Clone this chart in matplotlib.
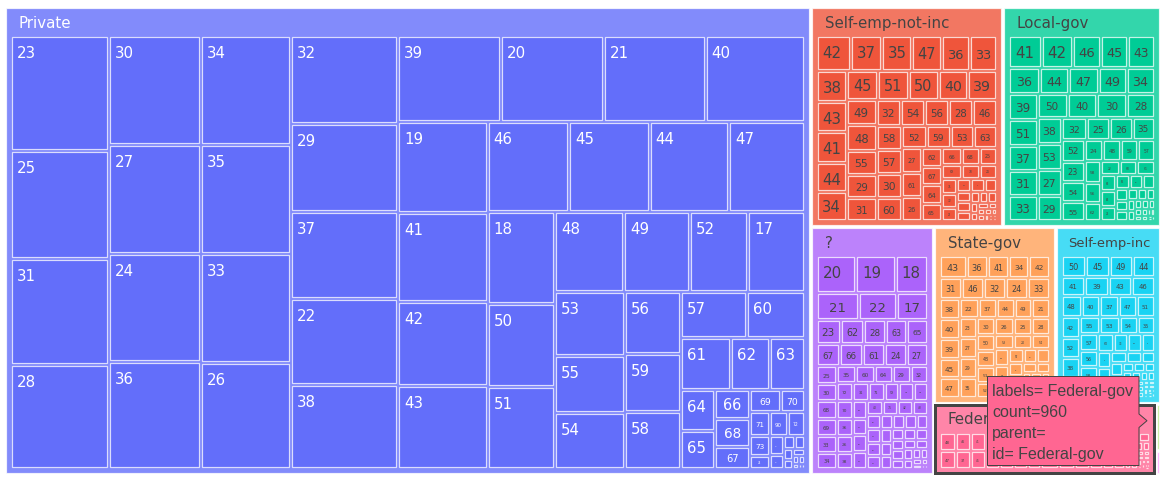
import matplotlib
matplotlib.use("Agg")
import matplotlib.pyplot as plt
from matplotlib.patches import Rectangle, Polygon, PathPatch
from matplotlib.path import Path
from matplotlib.colors import to_rgb

# ---- data: age counts per workclass ----
private_ages = [23, 25, 31, 28, 30, 27, 24, 36, 34, 35, 33, 26, 32, 29, 37, 22, 38,
                39, 20, 21, 40, 19, 41, 42, 43, 46, 45, 44, 47, 18, 50, 51, 48, 49,
                52, 17, 53, 55, 54, 56, 59, 58, 57, 60, 61, 62, 63, 64, 65, 66, 68,
                67, 69, 70, 71, 90, 72, 73, 74, 75, 76, 77, 78, 79, 80, 81, 82, 84,
                83, 88, 85]
private_counts = [743, 698, 686, 673, 663, 662, 655, 652, 648, 647, 645, 635, 621, 618,
                  611, 607, 597, 584, 582, 576, 562, 537, 529, 497, 496, 485, 481, 475,
                  450, 408, 368, 367, 364, 346, 306, 300, 296, 260, 260, 228, 216, 212,
                  201, 175, 173, 132, 120, 93, 88, 66, 63, 52, 45, 35, 32, 29, 27, 26,
                  18, 16, 13, 10, 8, 7, 6, 5, 3, 3, 2, 1, 1]

senc_ages = [42, 37, 35, 47, 36, 33, 38, 43, 41, 44, 34, 45, 51, 50, 40, 39, 49, 48,
             55, 29, 31, 32, 54, 56, 28, 46, 58, 57, 30, 60, 52, 59, 53, 63, 27, 61,
             26, 62, 67, 64, 65, 66, 68, 25, 69, 70, 24, 71, 72, 23, 73, 74, 22, 75,
             76, 77, 21, 78, 79, 80, 20, 81, 19, 82, 84, 90, 18, 83, 85, 17, 86, 88]
senc_counts = [90, 83, 80, 78, 73, 72, 72, 71, 71, 69, 68, 68, 67, 67, 64, 64, 57, 56,
               54, 52, 51, 49, 49, 48, 48, 47, 47, 47, 47, 46, 41, 40, 38, 38, 37, 36,
               35, 30, 30, 30, 27, 25, 23, 22, 21, 19, 18, 17, 16, 15, 14, 13, 12, 11,
               10, 9, 8, 7, 7, 6, 5, 5, 4, 3, 3, 3, 2, 2, 1, 1, 1, 1]

local_ages = [41, 42, 46, 45, 43, 36, 44, 47, 49, 34, 39, 51, 37, 31, 33, 50, 40, 30,
              28, 38, 53, 27, 29, 32, 25, 26, 35, 52, 23, 54, 55, 24, 48, 59, 57, 58,
              56, 62, 22, 60, 61, 63, 64, 21, 65, 20, 66, 19, 67, 68, 18, 69, 70, 71,
              72, 73, 17, 74, 75, 76, 77, 78, 79, 80, 81, 82, 90]
local_counts = [80, 77, 68, 67, 65, 63, 61, 60, 58, 57, 57, 57, 56, 56, 56, 55, 54, 54,
                51, 50, 50, 50, 48, 42, 40, 39, 38, 38, 36, 34, 34, 31, 30, 28, 28, 27,
                26, 23, 20, 19, 19, 18, 17, 16, 15, 14, 12, 11, 10, 9, 9, 8, 7, 6,
                6, 5, 5, 4, 4, 3, 3, 2, 2, 2, 1, 1, 1]

unknown_ages = [20, 19, 18, 21, 22, 17, 23, 62, 28, 63, 65, 67, 66, 61, 24, 27, 25, 30,
                68, 69, 33, 34, 35, 60, 64, 29, 32, 72, 70, 36, 26, 38, 31, 71, 59, 73,
                37, 39, 74, 57, 41, 40, 75, 42, 43, 76, 44, 45, 47, 46, 77, 48, 50, 58,
                49, 80, 51, 52, 78, 53, 54, 56, 55, 79, 81, 90, 82, 84, 83, 85, 88, 86, 87]
unknown_counts = [113, 112, 91, 89, 80, 65, 46, 44, 42, 40, 39, 39, 38, 37, 36, 35, 28,
                  27, 27, 27, 26, 26, 26, 25, 25, 24, 23, 23, 22, 22, 22, 21, 21, 21,
                  20, 19, 19, 19, 18, 18, 18, 17, 17, 16, 16, 15, 15, 14, 14, 13, 13,
                  13, 12, 12, 11, 11, 11, 10, 10, 10, 9, 9, 9, 8, 8, 7, 6, 5, 4, 3, 3,
                  1, 1]

state_ages = [43, 36, 41, 34, 42, 31, 46, 32, 24, 33, 38, 40, 39, 45, 47, 22, 37, 44,
              49, 21, 23, 27, 29, 35, 30, 26, 25, 28, 50, 48, 51, 52, 53, 20, 54, 55,
              19, 56, 57, 58, 59, 60, 61, 18, 62, 63, 64, 65, 17, 66, 67, 68, 69, 70,
              71, 72, 73, 74, 90, 75]
state_counts = [50, 40, 39, 38, 38, 38, 38, 38, 38, 37, 34, 33, 33, 33, 32, 30, 29, 29,
                28, 28, 28, 28, 28, 27, 26, 26, 25, 25, 25, 25, 24, 23, 22, 22, 21, 20,
                19, 18, 17, 16, 15, 14, 13, 12, 11, 10, 9, 8, 7, 5, 5, 4, 4, 3,
                3, 2, 2, 1, 1, 1]

seinc_ages = [50, 45, 49, 44, 41, 39, 43, 46, 48, 40, 37, 47, 51, 42, 52, 38, 36, 55,
              53, 54, 35, 57, 56, 58, 34, 60, 33, 59, 61, 32, 62, 63, 31, 64, 30, 65,
              29, 66, 67, 28, 68, 69, 27, 70, 72, 26, 71, 25, 73, 74, 24, 75, 76, 23,
              77, 78, 79, 80, 22, 81, 84, 90, 19]
seinc_counts = [43, 41, 41, 38, 38, 38, 37, 37, 35, 33, 33, 33, 32, 32, 31, 31, 30, 30,
                29, 27, 26, 26, 25, 24, 23, 22, 21, 20, 19, 18, 17, 16, 15, 14, 13, 12,
                11, 10, 9, 9, 8, 7, 7, 6, 6, 5, 5, 4, 4, 3, 3, 3, 2, 2,
                2, 2, 1, 1, 1, 1, 1, 1, 2]

federal_ages = [48, 47, 46, 37, 41, 45, 40, 44, 43, 42, 49, 50, 38, 39, 52, 36, 35, 51,
                53, 33, 34, 31, 32, 54, 55, 56, 30, 29, 57, 28, 58, 59, 27, 60, 26, 25,
                61, 62, 24, 63, 23, 64, 22, 65, 21, 66, 20, 67, 68, 19, 69, 70, 72, 73, 90]
federal_counts = [37, 36, 35, 35, 34, 34, 33, 33, 32, 32, 31, 31, 29, 29, 28, 27, 26, 26,
                  25, 24, 24, 22, 22, 21, 20, 19, 18, 17, 16, 15, 14, 13, 13, 12, 11, 10,
                  9, 8, 8, 7, 6, 5, 5, 4, 4, 3, 3, 3, 2, 2, 2, 2, 1, 1, 1]

nopay_ages = [65, 19, 72, 66, 62, 52, 46, 21, 20, 18, 22, 24]
nopay_counts = [2, 2, 1, 1, 1, 1, 1, 1, 1, 1, 1, 1]

never_ages = [18, 17, 23, 20, 30]
never_counts = [2, 2, 1, 1, 1]

groups = [
    ("Private", private_ages, private_counts),
    ("Self-emp-not-inc", senc_ages, senc_counts),
    ("Local-gov", local_ages, local_counts),
    ("?", unknown_ages, unknown_counts),
    ("State-gov", state_ages, state_counts),
    ("Self-emp-inc", seinc_ages, seinc_counts),
    ("Federal-gov", federal_ages, federal_counts),
    ("Without-pay", nopay_ages, nopay_counts),
    ("Never-worked", never_ages, never_counts),
]
colors = ["#636EFA", "#EF553B", "#00CC96", "#AB63FA", "#FFA15A",
          "#19D3F3", "#FF6692", "#B6E880", "#FF97FF"]
hover_name = "Federal-gov"

for name, a, c in groups:
    assert len(a) == len(c), name

W, H, DPI = 1163, 485, 100
PX = 72.0 / DPI           # points per pixel
INNER = 3.0               # padding between siblings
PAD_T, PAD_S = 29.0, 6.0  # header / side padding inside a branch
ROOT = (4.5, 7.8, 1160.5, 475.8)
LABEL_PX = 15.0
HOVER_BOX = (987.5, 377.5, 1139.0, 466.5)


def squarify(values, x0, y0, x1, y1):
    """d3-hierarchy squarify (ratio 1); values sorted descending."""
    rects = [None] * len(values)
    total = float(sum(values))
    n = len(values)
    i0 = i1 = 0
    while i0 < n:
        dx, dy = x1 - x0, y1 - y0
        s = values[i1]
        i1 += 1
        mn = mx = s
        alpha = max(dy / dx, dx / dy) / total
        beta = s * s * alpha
        best = max(mx / beta, beta / mn)
        while i1 < n:
            v = values[i1]
            s2 = s + v
            mn2, mx2 = min(mn, v), max(mx, v)
            beta = s2 * s2 * alpha
            r = max(mx2 / beta, beta / mn2)
            if r > best:
                break
            s, mn, mx, best = s2, mn2, mx2, r
            i1 += 1
        if dx < dy:
            yb = y0 + dy * s / total
            xx = x0
            for i in range(i0, i1):
                w = dx * values[i] / s
                rects[i] = (xx, y0, xx + w, yb)
                xx += w
            y0 = yb
        else:
            xb = x0 + dx * s / total
            yy = y0
            for i in range(i0, i1):
                h = dy * values[i] / s
                rects[i] = (x0, yy, xb, yy + h)
                yy += h
            x0 = xb
        total -= s
        i0 = i1
    return rects


def shrink(r, p):
    x0, y0, x1, y1 = r[0] + p, r[1] + p, r[2] - p, r[3] - p
    if x1 < x0:
        x0 = x1 = (x0 + x1) / 2
    if y1 < y0:
        y0 = y1 = (y0 + y1) / 2
    return x0, y0, x1, y1


def text_color(col):
    r, g, b = [v * 255 for v in to_rgb(col)]
    return "#444444" if (r * 299 + g * 587 + b * 114) / 1000 > 128 else "white"


def fade(col, amt=0.2):
    return tuple(v + (1 - v) * amt for v in to_rgb(col))


fig = plt.figure(figsize=(W / DPI, H / DPI), dpi=DPI)
ax = fig.add_axes([0, 0, 1, 1])
ax.set_xlim(0, W)
ax.set_ylim(H, 0)
ax.axis("off")
renderer = fig.canvas.get_renderer()

# everything except the hover box, used to clip texts that run under it
hx0, hy0, hx1, hy1 = HOVER_BOX
hole = Path([(0, 0), (W, 0), (W, H), (0, H), (0, 0),
             (hx0, hy0), (hx0, hy1), (hx1, hy1), (hx1, hy0), (hx0, hy0)],
            [Path.MOVETO, Path.LINETO, Path.LINETO, Path.LINETO, Path.CLOSEPOLY,
             Path.MOVETO, Path.LINETO, Path.LINETO, Path.LINETO, Path.CLOSEPOLY])
hole_patch = PathPatch(hole, transform=ax.transData, visible=False)
ax.add_patch(hole_patch)


def text_width(s, size_px, family="DejaVu Sans"):
    t = ax.text(0, 0, s, fontsize=size_px * PX, family=family)
    w = t.get_window_extent(renderer).width
    t.remove()
    return w


def put_text(x, y, s, box, **kw):
    """Draw a label; skip it if the hover box hides it, clip if partly hidden."""
    bx0, by0, bx1, by1 = box
    if bx0 >= hx0 and bx1 <= hx1 + 8 and by0 >= hy0 and by1 <= hy1:
        return
    t = ax.text(x, y, s, **kw)
    if bx1 > hx0 and bx0 < hx1 and by1 > hy0 and by0 < hy1:
        t.set_clip_path(hole_patch)


totals = [sum(c) for _, _, c in groups]
top_rects = squarify(totals, *ROOT)
edge = (1, 1, 1, 0.75)

for (name, ages, counts), col, tile in zip(groups, colors, top_rects):
    bx0, by0, bx1, by1 = shrink(tile, INNER / 2)
    ax.add_patch(Rectangle((bx0, by0), bx1 - bx0, by1 - by0, facecolor=fade(col),
                           edgecolor=edge, lw=1.2 * PX))
    tc = text_color(col)

    # header
    avail = (bx1 - bx0) - 20
    if avail > 6 and by1 - by0 > 20:
        tw = text_width(name, LABEL_PX)
        fs = min(LABEL_PX, LABEL_PX * avail / tw)
        xoff = 13 if fs >= LABEL_PX else 11
        tx, ty = bx0 + xoff, by0 + 7.5 + 0.76 * fs
        put_text(tx, ty, name, (tx, ty - 0.76 * fs, tx + tw * fs / LABEL_PX, ty),
                 fontsize=fs * PX, color=tc, ha="left", va="baseline")

    cx0 = bx0 + PAD_S - INNER / 2
    cy0 = by0 + PAD_T - INNER / 2
    cx1 = bx1 - PAD_S + INNER / 2
    cy1 = by1 - PAD_S + INNER / 2
    if cx1 - cx0 <= 0 or cy1 - cy0 <= 0:
        continue

    order = sorted(range(len(counts)), key=lambda i: -counts[i])
    rects = squarify([counts[i] for i in order], cx0, cy0, cx1, cy1)
    for i, r in zip(order, rects):
        x0, y0, x1, y1 = shrink(r, INNER / 2)
        w, h = x1 - x0, y1 - y0
        ax.add_patch(Rectangle((x0, y0), w, h, facecolor=col, edgecolor=edge,
                               lw=1.2 * PX))
        label = str(ages[i])
        fs = min(LABEL_PX, (w - 8) / (0.636 * len(label)), (h - 7) / 1.3)
        if fs < 1.5:
            continue
        lw_ = 0.636 * len(label) * fs
        if fs >= LABEL_PX:
            tx, ty = x0 + 5, y0 + 20
            put_text(tx, ty, label, (tx, ty - 0.73 * fs, tx + lw_, ty),
                     fontsize=fs * PX, color=tc, ha="left", va="baseline")
        else:
            tx, ty = (x0 + x1) / 2, (y0 + y1) / 2 + 0.36 * fs
            put_text(tx, ty, label, (tx - lw_ / 2, ty - 0.73 * fs, tx + lw_ / 2, ty),
                     fontsize=fs * PX, color=tc, ha="center", va="baseline")

# hovered node outline + hover label
fed = [g[0] for g in groups].index(hover_name)
fx0, fy0, fx1, fy1 = shrink(top_rects[fed], INNER / 2)
ax.add_patch(Rectangle((fx0, fy0), fx1 - fx0, fy1 - fy0, facecolor="none",
                       edgecolor="#444444", lw=3 * PX, zorder=5))

tip = [(hx0, hy0), (hx1, hy0), (hx1, 415.0), (1147.0, 421.7), (hx1, 428.5),
       (hx1, hy1), (hx0, hy1)]
ax.add_patch(Polygon(tip, closed=True, facecolor=colors[fed], edgecolor="#444444",
                     lw=1 * PX, zorder=6))
hover_lines = ["labels= %s" % hover_name, "count=%d" % totals[fed], "parent=",
               "id= %s" % hover_name]
for k, line in enumerate(hover_lines):
    ax.text(hx0 + 4.5, 392 + k * 21, line, fontsize=16 * PX, family="Liberation Sans",
            color="#444444", ha="left", va="center", zorder=7)

fig.savefig("out.png", dpi=DPI)
